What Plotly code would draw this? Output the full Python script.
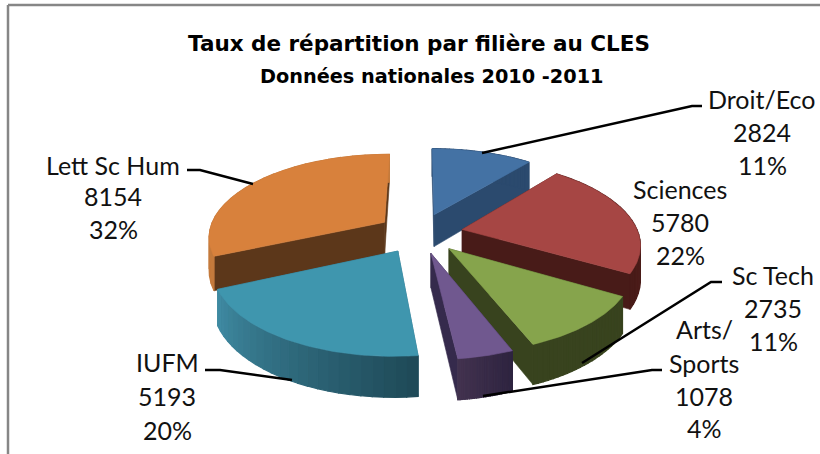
import numpy as np
import plotly.graph_objects as go

categories = ["Droit/Eco", "Sciences", "Sc Tech", "Arts/Sports", "IUFM", "Lett Sc Hum"]
values = [2824, 5780, 2735, 1078, 5193, 8154]
percent_labels = ["11%", "22%", "11%", "4%", "20%", "32%"]
top_colors = ["#4472a4", "#a64644", "#86a44c", "#70588f", "#3f96ae", "#d8813c"]
cut_colors = ["#2b4a6e", "#481b18", "#38431e", "#352a4c", "#2f7288", "#5c371a"]
rim_left = ["#2b4a6e", "#5a201d", "#38431e", "#42324f", "#3f8aa2", "#c47a3c"]
rim_right = ["#2b4a6e", "#481b18", "#38431e", "#2e2440", "#1f4a58", "#c47a3c"]
draw_order = [0, 5, 1, 2, 3, 4]

CX, CY = 420, 233
RX, RY, PERSP = 176, 82, 0.16
EXPLODE = 0.245
WALL = 33


def project(wx, wy):
    s = 1 / (1 + PERSP * wy)
    return CX + RX * wx * s, CY - RY * wy * s, s


def poly(fig, xs, ys, color, width=0.6):
    fig.add_trace(go.Scatter(x=list(xs), y=list(ys), mode="lines", fill="toself",
                             fillcolor=color, line=dict(color=color, width=width),
                             hoverinfo="skip", showlegend=False))


def mix(a, b, t):
    ca = [int(a[i:i + 2], 16) for i in (1, 3, 5)]
    cb = [int(b[i:i + 2], 16) for i in (1, 3, 5)]
    return "rgb(%d,%d,%d)" % tuple(round(u + (v - u) * t) for u, v in zip(ca, cb))


fig = go.Figure()
edges = np.concatenate([[0], np.cumsum(values)]) / sum(values) * 2 * np.pi

for i in draw_order:
    a0, a1 = edges[i], edges[i + 1]
    mid = (a0 + a1) / 2
    ox, oy = EXPLODE * np.sin(mid), EXPLODE * np.cos(mid)
    ax, ay, sa = project(ox, oy)

    def rim(theta):
        return project(ox + np.sin(theta), oy + np.cos(theta))

    # cut faces
    for a in (a0, a1):
        x, y, s = rim(a)
        poly(fig, [ax, x, x, ax, ax],
             [ay, y, y + WALL * s, ay + WALL * sa, ay], cut_colors[i])
    # outer wall, shaded piece by piece
    n = 24
    th = np.linspace(a0, a1, n + 1)
    for k in range(n):
        x0, y0, s0 = rim(th[k])
        x1, y1, s1 = rim(th[k + 1])
        t = k / (n - 1)
        if i in (4, 3):
            t = 1 - t
        poly(fig, [x0, x1, x1, x0, x0], [y0, y1, y1 + WALL * s1, y0 + WALL * s0, y0],
             mix(rim_left[i], rim_right[i], t), width=1.2)
    # top face
    th = np.linspace(a0, a1, 80)
    x, y, _ = rim(th)
    poly(fig, [ax, *x, ax], [ay, *y, ay], top_colors[i])

label_font = dict(family="Lato, DejaVu Sans, sans-serif", size=25, color="#111111")
title_font = dict(family="DejaVu Sans, sans-serif", size=21.5, color="#000000", weight="bold")
title_font2 = dict(title_font, size=19.3)

label_lines = [
    (762, 99, categories[0]), (762, 132, str(values[0])), (762, 165, percent_labels[0]),
    (680, 189, categories[1]), (680, 222, str(values[1])), (680, 255, percent_labels[1]),
    (773, 275, categories[2]), (773, 308, str(values[2])), (773, 341, percent_labels[2]),
    (704, 329, "Arts/"), (704, 363, "Sports"), (704, 396, str(values[3])), (704, 428, percent_labels[3]),
    (167, 362, categories[4]), (167, 396, str(values[4])), (167, 430, percent_labels[4]),
    (113, 165, categories[5]), (113, 196, str(values[5])), (113, 229, percent_labels[5]),
]
annotations = [dict(x=x, y=y, text=t, showarrow=False, font=label_font, xref="x", yref="y")
               for x, y, t in label_lines]
annotations += [
    dict(x=419, y=43, text="Taux de répartition par filière au CLES", showarrow=False,
         font=title_font, xref="x", yref="y"),
    dict(x=432, y=76, text="Données nationales 2010 -2011", showarrow=False,
         font=title_font2, xref="x", yref="y"),
]

leaders = [
    "M482,153 L692,106 L702,106",
    "M582,363 L711,282 L722,282",
    "M483,396 L652,370 L662,370",
    "M205,370 L220,370 L292,380",
    "M187,170 L200,170 L253,184",
]
shapes = [dict(type="path", path=p, line=dict(color="#000000", width=2.5), xref="x", yref="y")
          for p in leaders]
shapes += [
    dict(type="line", x0=8, y0=5, x1=820, y1=5, line=dict(color="#868686", width=2.5), xref="x", yref="y"),
    dict(type="line", x0=8, y0=5, x1=8, y1=454, line=dict(color="#868686", width=2.5), xref="x", yref="y"),
]

fig.update_layout(
    width=820, height=454, margin=dict(l=0, r=0, t=0, b=0),
    paper_bgcolor="white", plot_bgcolor="white", showlegend=False,
    xaxis=dict(range=[0, 820], visible=False, fixedrange=True),
    yaxis=dict(range=[454, 0], visible=False, fixedrange=True),
    annotations=annotations, shapes=shapes,
)
fig.write_html("out.html", config=dict(displayModeBar=False),
               post_script="document.body.style.margin='0';document.body.style.overflow='hidden';")
